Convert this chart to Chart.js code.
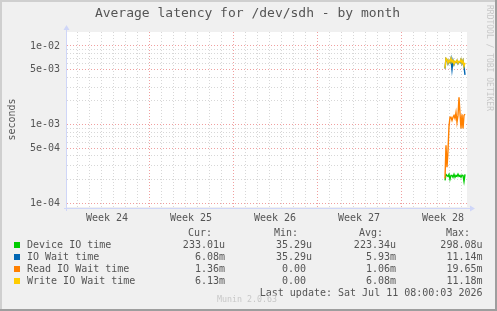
<!DOCTYPE html>
<html>
<head>
<meta charset="utf-8">
<script src="https://cdn.jsdelivr.net/npm/chart.js@4.4.1/dist/chart.umd.min.js"></script>
<style>
  html, body { margin: 0; padding: 0; background: #f0f0f0; }
  #wrap { width: 497px; height: 311px; }
</style>
</head>
<body>
<div id="wrap"><canvas id="latencyChart" width="497" height="311"></canvas></div>
<script>
/* ═══════════════════════════════════════════
   Munin — Average latency for /dev/sdh, by month
═══════════════════════════════════════════ */

const SERIES_NAMES  = ['Device IO time', 'IO Wait time', 'Read IO Wait time', 'Write IO Wait time'];
const SERIES_COLORS = ['#00cc00', '#0066b3', '#ff8000', '#ffcc00'];

// x is hours since Mon Jul 6 00:00 (start of week 28), one sample every 2h
const SAMPLE_START = 88;
const SAMPLE_STEP  = 2;

const deviceIo  = [1.96e-4, 2.33e-4, 2.26e-4, 2.20e-4, 2.33e-4, 2.02e-4, 2.26e-4, 2.26e-4, 2.14e-4, 2.33e-4, 2.14e-4,
                   2.26e-4, 2.20e-4, 2.35e-4, 2.20e-4, 2.26e-4, 2.14e-4, 2.28e-4, 2.26e-4, 1.90e-4, 2.33e-4];
const ioWait    = [5.15e-3, 6.90e-3, 6.70e-3, 5.95e-3, 6.50e-3, 6.15e-3, 6.90e-3, 5.00e-3, 6.50e-3, 5.80e-3, 6.30e-3,
                   6.15e-3, 6.50e-3, 5.95e-3, 6.30e-3, 6.15e-3, 6.70e-3, 5.95e-3, 6.50e-3, 5.45e-3, 4.30e-3];
const readWait  = [2.07e-4, 5.46e-4, 2.87e-4, 4.71e-4, 9.50e-4, 1.24e-3, 1.24e-3, 1.13e-3, 1.24e-3, 1.31e-3, 1.20e-3,
                   1.43e-3, 1.07e-3, 1.31e-3, 2.22e-3, 1.39e-3, 8.97e-4, 1.35e-3, 8.97e-4, 1.31e-3, 1.36e-3];
const writeWait = [5.20e-3, 6.97e-3, 6.76e-3, 6.02e-3, 6.57e-3, 6.20e-3, 6.97e-3, 6.20e-3, 6.57e-3, 5.85e-3, 6.38e-3,
                   6.20e-3, 6.57e-3, 6.02e-3, 6.38e-3, 6.20e-3, 6.76e-3, 6.02e-3, 6.57e-3, 5.52e-3, 6.13e-3];

const STAT_CUR = ['233.01u', '6.08m', '1.36m', '6.13m'];
const STAT_MIN = ['35.29u', '35.29u', '0.00 ', '0.00 '];
const STAT_AVG = ['223.34u', '5.93m', '1.06m', '6.08m'];
const STAT_MAX = ['298.08u', '11.14m', '19.65m', '11.18m'];

const WEEK_LABELS = ['Week 24', 'Week 25', 'Week 26', 'Week 27', 'Week 28'];
const WEEK_MIDS   = [-588, -420, -252, -84, 84];

const Y_LABEL_VALUES = [1e-4, 5e-4, 1e-3, 5e-3, 1e-2];
const Y_LABELS       = ['1e-04', '5e-04', '1e-03', '5e-03', '1e-02'];
const Y_GRID_VALUES  = [1e-4, 2e-4, 3e-4, 4e-4, 5e-4, 6e-4, 7e-4, 8e-4, 9e-4,
                        1e-3, 2e-3, 3e-3, 4e-3, 5e-3, 6e-3, 7e-3, 8e-3, 9e-3, 1e-2];

const X_MIN = -668, X_MAX = 132;
const Y_MIN = 8.97e-5, Y_MAX = 1.506e-2;

const FONT     = 'DejaVu Sans Mono';
const TEXT     = '#555';
const GRID     = 'rgba(150,150,150,0.38)';
const MGRID    = 'rgba(228,80,80,0.55)';
const AXIS     = '#cfd6f8';

const toPoints = vals => vals.map((v, i) => ({ x: SAMPLE_START + i * SAMPLE_STEP, y: v }));
const isLabelled = v => Y_LABEL_VALUES.findIndex(t => Math.abs(v - t) / t < 1e-6);

/* ─── frame, axes and text (rrdtool look) ─── */
const muninFrame = {
  id: 'muninFrame',
  beforeDraw(chart) {
    const { ctx, chartArea: a, width: w, height: h } = chart;
    ctx.save();
    ctx.fillStyle = '#f0f0f0';
    ctx.fillRect(0, 0, w, h);
    ctx.fillStyle = '#cfcfcf';
    ctx.fillRect(0, 0, w, 2);
    ctx.fillRect(0, 0, 2, h);
    ctx.fillStyle = '#9e9e9e';
    ctx.fillRect(0, h - 2, w, 2);
    ctx.fillRect(w - 2, 0, 2, h);
    ctx.fillStyle = '#fff';
    ctx.fillRect(a.left, a.top, a.right - a.left, a.bottom - a.top);
    ctx.restore();
  },
  afterDraw(chart) {
    const { ctx, chartArea: a } = chart;
    ctx.save();

    // axes with arrows
    const ax = a.left - 0.5, ay = a.bottom + 1.5;
    ctx.strokeStyle = AXIS;
    ctx.fillStyle = AXIS;
    ctx.lineWidth = 1;
    ctx.beginPath();
    ctx.moveTo(ax, a.bottom + 4); ctx.lineTo(ax, a.top - 3);
    ctx.moveTo(a.left - 3, ay);   ctx.lineTo(a.right + 4, ay);
    ctx.stroke();
    ctx.beginPath();
    ctx.moveTo(ax, a.top - 7); ctx.lineTo(ax - 3, a.top - 2); ctx.lineTo(ax + 3, a.top - 2); ctx.closePath();
    ctx.moveTo(a.right + 8, ay); ctx.lineTo(a.right + 3, ay - 3); ctx.lineTo(a.right + 3, ay + 3); ctx.closePath();
    ctx.fill();

    const txt = (s, x, y, align, size, color) => {
      ctx.font = size + 'px "' + FONT + '"';
      ctx.fillStyle = color || TEXT;
      ctx.textAlign = align || 'left';
      ctx.textBaseline = 'middle';
      ctx.fillText(s, x, y);
    };

    txt('Average latency for /dev/sdh - by month', 247.5, 14, 'center', 13);

    // y axis title
    ctx.save();
    ctx.translate(12, (a.top + a.bottom) / 2);
    ctx.rotate(-Math.PI / 2);
    txt('seconds', 0, 0, 'center', 10);
    ctx.restore();

    // watermark
    ctx.save();
    ctx.translate(489, 5);
    ctx.rotate(Math.PI / 2);
    txt('RRDTOOL / TOBI OETIKER', 0, 0, 'left', 8, '#c8c8c8');
    ctx.restore();

    // legend
    txt('Cur:', 212, 233, 'right', 10);
    txt('Min:', 298, 233, 'right', 10);
    txt('Avg:', 383, 233, 'right', 10);
    txt('Max:', 470, 233, 'right', 10);
    SERIES_NAMES.forEach((name, i) => {
      const y = 245 + i * 12;
      ctx.fillStyle = SERIES_COLORS[i];
      ctx.fillRect(14, y - 3, 6, 6);
      txt(name, 27, y, 'left', 10);
      txt(STAT_CUR[i], 225, y, 'right', 10);
      txt(STAT_MIN[i], 312, y, 'right', 10);
      txt(STAT_AVG[i], 396, y, 'right', 10);
      txt(STAT_MAX[i], 482.5, y, 'right', 10);
    });
    txt('Last update: Sat Jul 11 08:00:03 2026', 482.5, 293, 'right', 10);
    txt('Munin 2.0.63', 217, 300, 'left', 8.3, '#c8c8c8');

    ctx.restore();
  }
};

Chart.defaults.font.family = FONT;
Chart.defaults.font.size = 10;
Chart.defaults.color = TEXT;

const datasets = [
  { label: SERIES_NAMES[0], data: toPoints(deviceIo),  borderColor: SERIES_COLORS[0], order: 3 },
  { label: SERIES_NAMES[1], data: toPoints(ioWait),    borderColor: SERIES_COLORS[1], order: 2 },
  { label: SERIES_NAMES[2], data: toPoints(readWait),  borderColor: SERIES_COLORS[2], order: 1 },
  { label: SERIES_NAMES[3], data: toPoints(writeWait), borderColor: SERIES_COLORS[3], order: 0 },
];

new Chart(document.getElementById('latencyChart'), {
  type: 'line',
  data: { datasets },
  plugins: [muninFrame],
  options: {
    responsive: false,
    devicePixelRatio: 1,
    animation: false,
    layout: { padding: { left: 0, top: 32, right: 30, bottom: 0 } },
    elements: {
      line: { borderWidth: 1.4, tension: 0, fill: false },
      point: { radius: 0 }
    },
    plugins: { legend: { display: false }, tooltip: { enabled: false }, title: { display: false } },
    scales: {
      x: {
        type: 'linear',
        min: X_MIN,
        max: X_MAX,
        afterBuildTicks: scale => {
          const vals = [];
          for (let h = -648; h <= X_MAX; h += 24) vals.push(h);
          scale.ticks = vals.concat(WEEK_MIDS).sort((p, q) => p - q).map(v => ({ value: v }));
        },
        afterFit: scale => { scale.height = 104; },
        grid: {
          drawTicks: false,
          lineWidth: 1,
          color: c => {
            const v = c.tick ? c.tick.value : 0;
            if (WEEK_MIDS.includes(v)) return 'rgba(0,0,0,0)';
            return v % 168 === 0 ? MGRID : GRID;
          }
        },
        border: { display: false, dash: [1, 2] },
        ticks: {
          autoSkip: false,
          maxRotation: 0,
          padding: 5,
          color: TEXT,
          callback: v => {
            const k = WEEK_MIDS.indexOf(v);
            return k >= 0 ? WEEK_LABELS[k] : '';
          }
        }
      },
      y: {
        type: 'logarithmic',
        min: Y_MIN,
        max: Y_MAX,
        afterBuildTicks: scale => { scale.ticks = Y_GRID_VALUES.map(v => ({ value: v })); },
        afterFit: scale => { scale.width = 67; },
        grid: {
          drawTicks: false,
          lineWidth: 1,
          color: c => (c.tick && isLabelled(c.tick.value) >= 0 ? MGRID : GRID)
        },
        border: { display: false, dash: [1, 2] },
        ticks: {
          autoSkip: false,
          padding: 7,
          color: TEXT,
          callback: v => {
            const k = isLabelled(v);
            return k >= 0 ? Y_LABELS[k] : '';
          }
        }
      }
    }
  }
});
</script>
</body>
</html>
